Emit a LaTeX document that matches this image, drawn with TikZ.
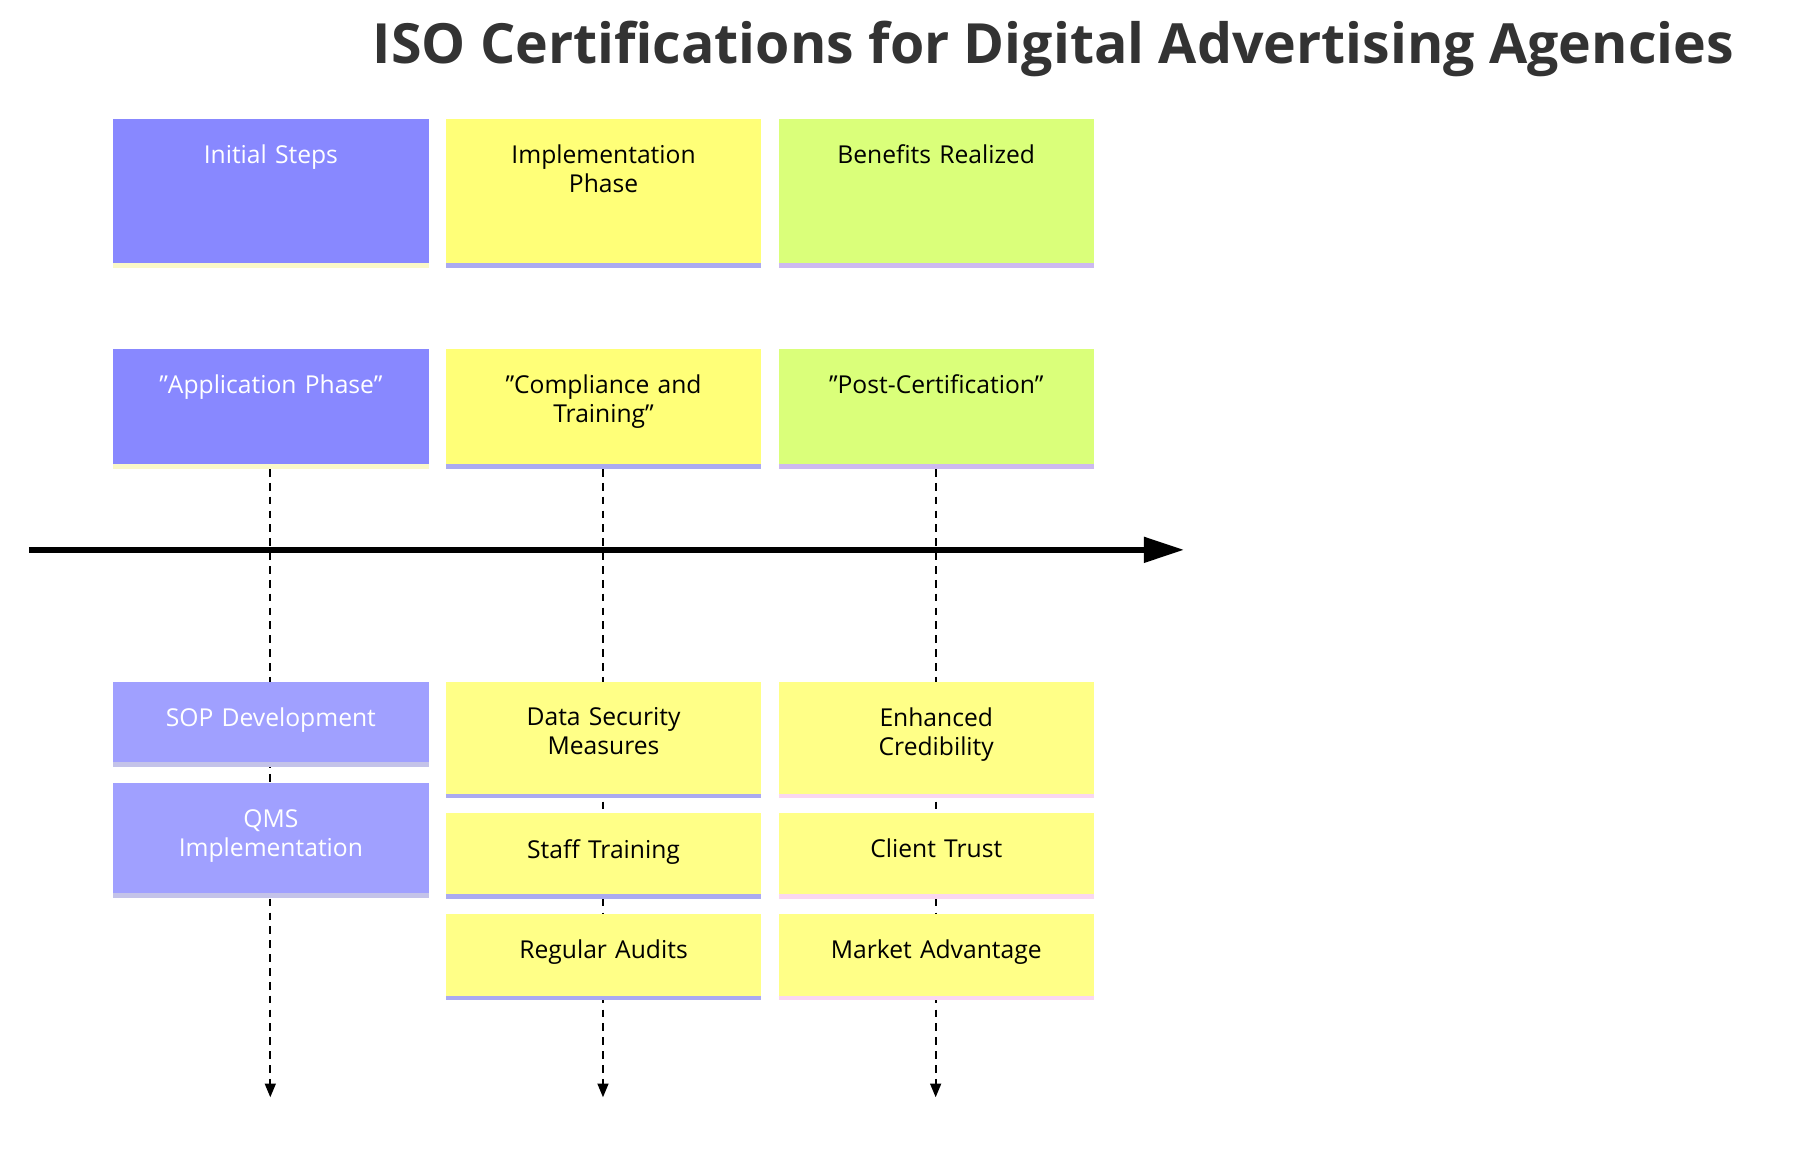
\documentclass[tikz,border=0pt]{standalone}
\usepackage{fontspec}
\setmainfont{Open Sans}
\usetikzlibrary{arrows.meta}
\definecolor{initc}{RGB}{136,136,255}
\definecolor{initt}{RGB}{160,160,255}
\definecolor{implc}{RGB}{255,255,120}
\definecolor{implt}{RGB}{255,255,135}
\definecolor{benec}{RGB}{218,255,122}
\definecolor{stripb}{RGB}{170,170,240}
\definecolor{stripl}{RGB}{205,185,240}
\definecolor{stripy}{RGB}{250,248,200}
\definecolor{stripp}{RGB}{250,215,240}
\definecolor{titlec}{RGB}{51,51,51}
\tikzset{every picture/.style={line width=0.75pt}}
\tikzset{
  card/.style={anchor=north west, minimum width=273*0.75pt, inner sep=0pt, align=center, font=\fontsize{16}{19}\selectfont, text width=250*0.75pt},
  cardtop/.style={card, text depth=0pt},
  vline/.style={dashed, line width=1.5pt, dash pattern=on 5pt off 4pt, -{Triangle[length=9pt,width=7pt]}},
}
\newcommand{\card}[8]{% name, x, y, height, fill, strip, textcolour, text
  \fill[#5] (#2,#3) rectangle ++(273,#4);
  \fill[#6] (#2,#3+#4) rectangle ++(273,4);
  \node[card, text=#7, anchor=north] (#1) at (#2+136.5,#3+22) {#8};
}
\begin{document}
\begin{tikzpicture}[x=0.75pt,y=0.75pt,yscale=-1,xscale=1]
\useasboundingbox (0,0) rectangle (1560,1002);

% Title
\node[font=\fontsize{36}{40}\bfseries\selectfont, text=titlec] (title) at (912,42) {ISO Certifications for Digital Advertising Agencies};

% vertical dashed lines
\coordinate (s1) at (234,406); \coordinate (e1) at (234,950);
\coordinate (s2) at (522,406); \coordinate (e2) at (522,950);
\coordinate (s3) at (810,406); \coordinate (e3) at (810,950);
\draw[vline] (s1) -- (e1);
\draw[vline] (s2) -- (e2);
\draw[vline] (s3) -- (e3);

% timeline
\coordinate (t0) at (25,476); \coordinate (t1) at (1025,476);
\draw[line width=5*0.75pt, -{Triangle[length=26pt,width=16pt]}] (t0) -- (t1);

% headers
\card{hinit}{98}{103}{125}{initc}{stripy}{white}{Initial Steps}
\card{himpl}{386}{103}{125}{implc}{stripb}{black}{Implementation\\Phase}
\card{hbene}{674}{103}{125}{benec}{stripl}{black}{Benefits Realized}

% sections
\card{sapp}{98}{302}{100}{initc}{stripy}{white}{"Application Phase"}
\card{scomp}{386}{302}{100}{implc}{stripb}{black}{"Compliance and\\Training"}
\card{spost}{674}{302}{100}{benec}{stripl}{black}{"Post-Certification"}

% tasks
\card{tsop}{98}{590}{70}{initt}{stripy!40!initt}{white}{SOP Development}
\card{tqms}{98}{678}{95}{initt}{stripy!40!initt}{white}{QMS\\Implementation}
\card{tdata}{386}{590}{97}{implt}{stripb}{black}{Data Security\\Measures}
\card{tstaff}{386}{704}{70}{implt}{stripb}{black}{Staff Training}
\card{taudit}{386}{791}{71}{implt}{stripb}{black}{Regular Audits}
\card{tcred}{674}{590}{97}{implt}{stripp}{black}{Enhanced\\Credibility}
\card{ttrust}{674}{704}{70}{implt}{stripp}{black}{Client Trust}
\card{tmark}{674}{791}{71}{implt}{stripp}{black}{Market Advantage}
\end{tikzpicture}
\end{document}
